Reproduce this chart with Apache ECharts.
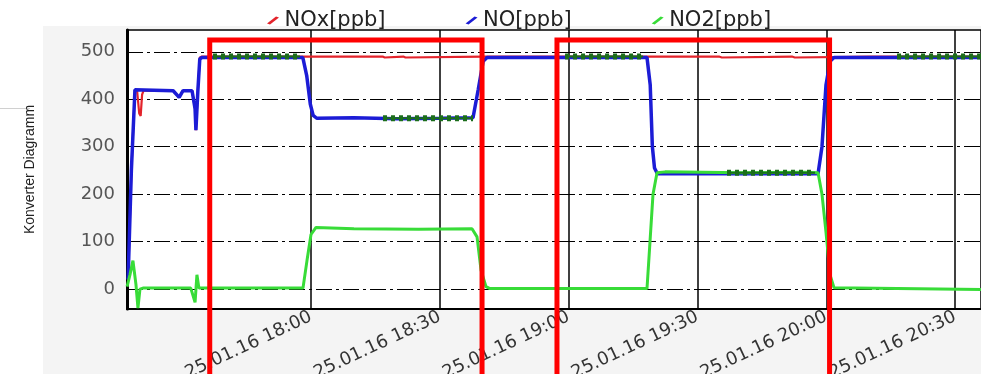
<!DOCTYPE html>
<html><head><meta charset="utf-8">
<script src="https://cdn.jsdelivr.net/npm/echarts@6/dist/echarts.min.js"></script>
<style>html,body{margin:0;padding:0;background:#fff}#c{width:981px;height:374px}</style>
</head><body><div id="c"></div>
<script>
const dateLabel = '25.01.16';
const seriesNames = ['NOx[ppb]', 'NO[ppb]', 'NO2[ppb]'];
const seriesColors = ['#e3232b', '#1c1cd6', '#38dc38'];
const meanColor = '#1b6e1b';

const noxTime = ['17:17:24','17:18:10','17:19:00','17:19:30','17:20:00','17:20:20','17:20:40','17:21:00','17:27:54','17:29:18','17:30:12','17:32:18','17:33:00','17:33:12','17:33:40','17:34:06','17:34:36','17:50:00','18:05:00','18:16:40','18:17:10','18:21:30','18:22:00','18:40:00','19:05:00','19:35:00','19:35:40','19:52:00','19:52:40','20:10:00','20:36:10'];
const noxValue = [20,250,420,418,370,365,410,418,418,404,418,418,380,335,420,488,490,490,490,490,488,490,488,490,490,490,488,490,488,490,490];

const noTime = ['17:17:24','17:18:10','17:19:00','17:19:20','17:27:54','17:29:18','17:30:12','17:32:18','17:33:00','17:33:12','17:33:40','17:34:06','17:34:36','17:58:06','17:59:00','17:59:50','18:00:30','18:01:20','18:10:00','18:20:00','18:30:00','18:37:44','18:38:56','18:40:06','18:41:00','19:18:15','19:19:00','19:19:30','19:20:00','19:20:40','19:40:00','19:58:05','19:59:00','19:59:56','20:00:53','20:01:48','20:36:10'];
const noValue = [20,250,420,418,418,404,418,418,380,335,420,485,488,488,450,390,366,360,361,359,360,361,420,480,488,488,430,300,255,243,243,243,300,430,480,488,488];

const no2Time = ['17:17:10','17:17:50','17:18:32','17:19:14','17:19:42','17:20:10','17:20:52','17:32:00','17:33:00','17:33:26','17:33:54','17:58:08','17:59:04','18:00:00','18:01:10','18:10:00','18:25:00','18:37:30','18:38:40','18:39:36','18:40:45','18:41:40','19:18:15','19:18:57','19:19:39','19:20:35','19:22:27','19:40:00','19:55:00','19:58:05','19:59:00','19:59:56','20:00:53','20:01:48','20:36:10'];
const no2Value = [5,30,60,10,-40,0,2,2,-28,30,2,2,60,115,130,127,126,127,110,40,5,1,1,100,200,245,247,245,246,245,200,120,30,3,-1];

const meanTime = [['17:37:11','17:57:26'],['18:16:46','18:37:44'],['18:59:10','19:17:19'],['19:36:53','19:57:23'],['20:16:29','20:36:10']];
const meanValue = [490, 360, 490, 245, 490];

const xTickTimes = ['18:00','18:30','19:00','19:30','20:00','20:30'];
const yTicks = [0, 100, 200, 300, 400, 500];
const xRange = ['17:17:09', '20:36:02'];
const yRange = [-42, 546];
const highlightWindows = [['17:36:25','18:39:50'], ['18:57:17','20:00:46']];
const highlightTopValue = 525;

function toMin(s) { const p = s.split(':').map(Number); return p[0] * 60 + p[1] + (p[2] || 0) / 60; }
function fmt(v) { const h = Math.floor(v / 60); const m = Math.round(v - h * 60); return dateLabel + ' ' + h + ':' + String(m).padStart(2, '0'); }
function zip(t, v) { return t.map((s, i) => [toMin(s), v[i]]); }

const meanData = [];
meanTime.forEach((p, i) => { meanData.push([toMin(p[0]), meanValue[i]], [toMin(p[1]), meanValue[i]], [toMin(p[1]) + 0.01, '-']); });

const chart = echarts.init(document.getElementById('c'));
const option = {
  animation: false,
  backgroundColor: '#ffffff',
  graphic: [
    { id: 'bg', type: 'rect', z: -100, silent: true, shape: { x: 43, y: 26, width: 940, height: 350 }, style: { fill: '#f4f4f4' } },
    { id: 'stub', type: 'line', z: -100, silent: true, shape: { x1: 0, y1: 108.5, x2: 30, y2: 108.5 }, style: { stroke: '#d0d0d0', lineWidth: 1 } }
  ],
  legend: {
    top: 5, left: 262, itemGap: 80, itemWidth: 13, itemHeight: 8,
    icon: 'path://M0,8 L9,1 L12,2 L3,9 Z',
    textStyle: { fontFamily: 'DejaVu Sans', fontSize: 21, color: '#222' },
    data: seriesNames
  },
  grid: { left: 127, top: 30, right: 0, bottom: 65, outerBoundsMode: 'none', containLabel: false, show: true, backgroundColor: '#ffffff', borderColor: '#000', borderWidth: 1.5 },
  xAxis: {
    type: 'value', min: toMin(xRange[0]), max: toMin(xRange[1]),
    axisLine: { show: true, onZero: false, lineStyle: { color: '#000', width: 2 } },
    axisTick: { show: false, customValues: xTickTimes.map(toMin) },
    axisLabel: { customValues: xTickTimes.map(toMin), formatter: fmt, rotate: 25, margin: 7, fontFamily: 'DejaVu Sans', fontSize: 18, color: '#333' },
    splitLine: { show: true, lineStyle: { color: '#000', width: 1.5 } }
  },
  yAxis: {
    type: 'value', min: yRange[0], max: yRange[1],
    name: 'Konverter Diagramm', nameLocation: 'middle', nameGap: 90,
    nameTextStyle: { fontFamily: 'Liberation Sans', fontSize: 14, color: '#222' },
    axisLine: { show: true, lineStyle: { color: '#000', width: 3 } },
    axisTick: { show: false, customValues: yTicks },
    axisLabel: { customValues: yTicks, margin: 12, fontFamily: 'DejaVu Sans', fontSize: 18, color: '#555', padding: [0, 0, 10, 0] },
    splitLine: { show: true, lineStyle: { color: '#000', width: 1, type: [16, 4, 3, 4] } }
  },
  series: [
    { name: seriesNames[0], type: 'line', showSymbol: false, symbol: 'none', color: seriesColors[0], lineStyle: { width: 2.2 }, data: zip(noxTime, noxValue) },
    { name: seriesNames[1], type: 'line', showSymbol: false, symbol: 'none', color: seriesColors[1], lineStyle: { width: 3.5 }, data: zip(noTime, noValue) },
    { name: seriesNames[2], type: 'line', showSymbol: false, symbol: 'none', color: seriesColors[2], lineStyle: { width: 3 }, data: zip(no2Time, no2Value) },
    { name: 'mean', type: 'line', showSymbol: false, symbol: 'none', color: meanColor, lineStyle: { width: 2 }, data: meanData, z: 5 },
    { name: 'mean2', type: 'line', showSymbol: false, symbol: 'none', color: meanColor, lineStyle: { width: 6, type: [4, 4], cap: 'butt' }, data: meanData, z: 5 }
  ]
};
chart.setOption(option);

const boxes = highlightWindows.map((w, i) => {
  const xl = chart.convertToPixel({ gridIndex: 0 }, [toMin(w[0]), highlightTopValue]);
  const xr = chart.convertToPixel({ gridIndex: 0 }, [toMin(w[1]), highlightTopValue]);
  const bottom = chart.getHeight() + 10;
  return { id: 'box' + i, type: 'polyline', z: 200, silent: true,
    shape: { points: [[xl[0], bottom], [xl[0], xl[1]], [xr[0], xr[1]], [xr[0], bottom]] },
    style: { stroke: '#ff0000', lineWidth: 5, fill: null, lineJoin: 'miter' } };
});
chart.setOption({ graphic: boxes });
</script></body></html>
